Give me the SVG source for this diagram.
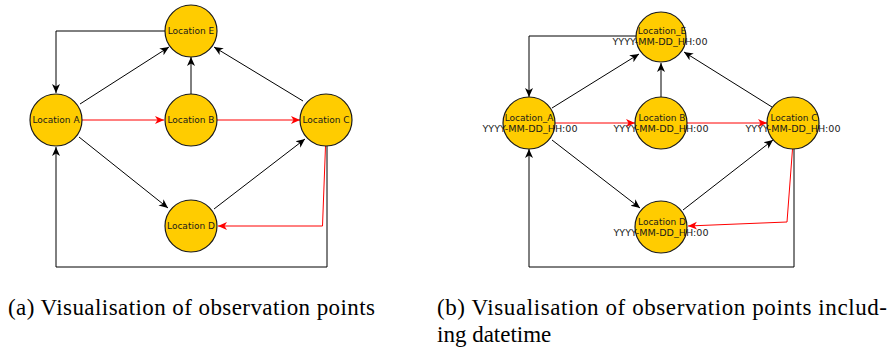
<svg xmlns="http://www.w3.org/2000/svg" width="891" height="349" viewBox="0 0 891 349">
  <style>
    .node circle { fill: #FFCC00; stroke: #1a1a1a; stroke-width: 1.2; }
    .lbl { font-family: "DejaVu Sans", sans-serif; font-size: 9px; fill: #1a1a1a; text-anchor: middle; }
    .dt { font-family: "DejaVu Sans", sans-serif; font-size: 9.2px; fill: #1a1a1a; text-anchor: middle; }
    .edge { fill: none; stroke: #000; stroke-width: 1; }
    .edge.red { stroke: #ff0000; }
    .cap { font-family: "Liberation Serif", "Times New Roman", serif; font-size: 23px; fill: #000; }
  </style>
  <defs>
    <marker id="arrBlack" markerUnits="userSpaceOnUse" markerWidth="10" markerHeight="10" viewBox="0 0 10 10" refX="9" refY="5" orient="auto">
      <path d="M0,1 L9,5 L0,9 L2.5,5 Z" fill="#000"/>
    </marker>
    <marker id="arrRed" markerUnits="userSpaceOnUse" markerWidth="10" markerHeight="10" viewBox="0 0 10 10" refX="9" refY="5" orient="auto">
      <path d="M0,1 L9,5 L0,9 L2.5,5 Z" fill="#ff0000"/>
    </marker>
  </defs>

  <!-- Panel (a): connectors -->
  <g id="connectors-a">
    <polyline class="edge" points="165,31 56,31 56,93" marker-end="url(#arrBlack)"/>
    <line class="edge" x1="80" y1="104" x2="169" y2="47" marker-end="url(#arrBlack)"/>
    <line class="edge" x1="191" y1="94" x2="191" y2="57" marker-end="url(#arrBlack)"/>
    <line class="edge" x1="303" y1="101" x2="214" y2="47" marker-end="url(#arrBlack)"/>
    <line class="edge" x1="79" y1="137" x2="168" y2="208" marker-end="url(#arrBlack)"/>
    <line class="edge" x1="214" y1="209" x2="305" y2="139" marker-end="url(#arrBlack)"/>
    <polyline class="edge" points="327,146 327,267 56,267 56,147" marker-end="url(#arrBlack)"/>
    <line class="edge red" x1="82" y1="120" x2="164" y2="120" marker-end="url(#arrRed)"/>
    <line class="edge red" x1="217" y1="120" x2="300" y2="120" marker-end="url(#arrRed)"/>
    <polyline class="edge red" points="325.5,146 322.5,226 218,226" marker-end="url(#arrRed)"/>
  </g>

  <!-- Panel (a): nodes -->
  <g id="a-location-e" class="node">
    <circle cx="191" cy="31" r="26"/>
    <text class="lbl" x="191" y="34">Location E</text>
  </g>
  <g id="a-location-a" class="node">
    <circle cx="56" cy="120" r="26"/>
    <text class="lbl" x="56" y="123">Location A</text>
  </g>
  <g id="a-location-b" class="node">
    <circle cx="191" cy="120" r="26"/>
    <text class="lbl" x="191" y="123">Location B</text>
  </g>
  <g id="a-location-c" class="node">
    <circle cx="326" cy="120" r="26"/>
    <text class="lbl" x="326" y="123">Location C</text>
  </g>
  <g id="a-location-d" class="node">
    <circle cx="191" cy="226" r="26"/>
    <text class="lbl" x="191" y="229">Location D</text>
  </g>

  <!-- Panel (b): connectors -->
  <g id="connectors-b">
    <polyline class="edge" points="637,36 529,36 529,97" marker-end="url(#arrBlack)"/>
    <line class="edge" x1="552" y1="108" x2="639" y2="54" marker-end="url(#arrBlack)"/>
    <line class="edge" x1="661" y1="98" x2="661" y2="63" marker-end="url(#arrBlack)"/>
    <line class="edge" x1="772" y1="107" x2="684" y2="52" marker-end="url(#arrBlack)"/>
    <line class="edge" x1="552" y1="140" x2="640" y2="208" marker-end="url(#arrBlack)"/>
    <line class="edge" x1="683" y1="210" x2="773" y2="140" marker-end="url(#arrBlack)"/>
    <polyline class="edge" points="794,149 794,267 529,267 529,149" marker-end="url(#arrBlack)"/>
    <line class="edge red" x1="555" y1="123" x2="635" y2="123" marker-end="url(#arrRed)"/>
    <line class="edge red" x1="687" y1="123" x2="767" y2="123" marker-end="url(#arrRed)"/>
    <polyline class="edge red" points="792.5,149 787,222 688,226" marker-end="url(#arrRed)"/>
  </g>

  <!-- Panel (b): nodes with datetime -->
  <g id="b-location-e" class="node">
    <circle cx="661" cy="37" r="25"/>
    <text class="lbl" x="662" y="34">Location_E</text>
    <text class="dt" x="660" y="45" textLength="95" lengthAdjust="spacingAndGlyphs">YYYY-MM-DD_HH:00</text>
  </g>
  <g id="b-location-a" class="node">
    <circle cx="529" cy="123" r="26"/>
    <text class="lbl" x="529" y="121">Location_A</text>
    <text class="dt" x="530" y="132" textLength="95" lengthAdjust="spacingAndGlyphs">YYYY-MM-DD_HH:00</text>
  </g>
  <g id="b-location-b" class="node">
    <circle cx="661" cy="123" r="26"/>
    <text class="lbl" x="662" y="121">Location B</text>
    <text class="dt" x="661" y="132" textLength="95" lengthAdjust="spacingAndGlyphs">YYYY-MM-DD_HH:00</text>
  </g>
  <g id="b-location-c" class="node">
    <circle cx="793" cy="123" r="26"/>
    <text class="lbl" x="794" y="121">Location C</text>
    <text class="dt" x="793" y="132" textLength="95" lengthAdjust="spacingAndGlyphs">YYYY-MM-DD_HH:00</text>
  </g>
  <g id="b-location-d" class="node">
    <circle cx="661" cy="227" r="26"/>
    <text class="lbl" x="662" y="225">Location D</text>
    <text class="dt" x="661" y="236" textLength="95" lengthAdjust="spacingAndGlyphs">YYYY-MM-DD_HH:00</text>
  </g>

  <!-- Captions -->
  <text class="cap" x="8" y="315" textLength="367" lengthAdjust="spacing">(a) Visualisation of observation points</text>
  <text class="cap" x="437" y="315" textLength="450" lengthAdjust="spacing">(b) Visualisation of observation points includ-</text>
  <text class="cap" x="437" y="342">ing datetime</text>
</svg>
